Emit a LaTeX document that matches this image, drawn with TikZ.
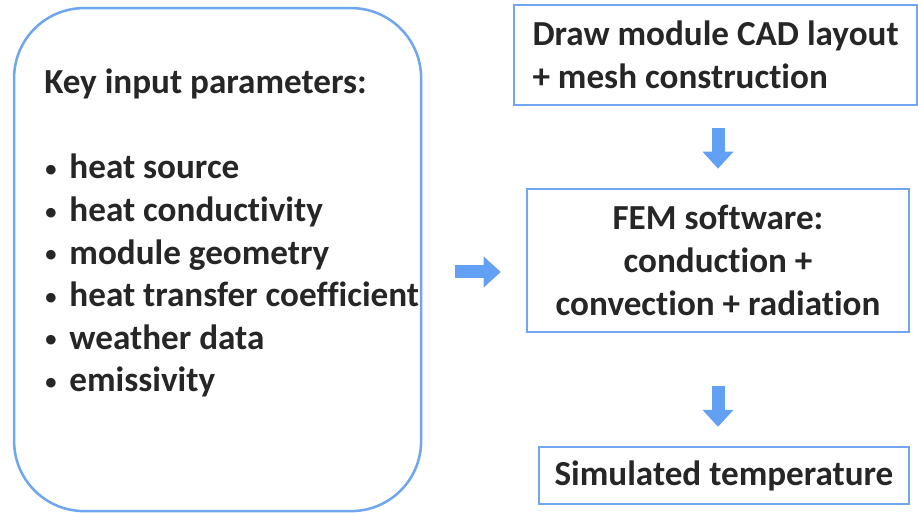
\documentclass[tikz,border=0pt]{standalone}
\usepackage{fontspec}
\setmainfont{Carlito}[Ligatures=NoCommon]
\usetikzlibrary{arrows.meta}
\definecolor{boxblue}{RGB}{112,166,240}
\definecolor{arrowblue}{RGB}{98,160,243}
\definecolor{textgray}{RGB}{38,38,38}
\tikzset{
  box/.style={draw=boxblue, line width=1.8pt, inner sep=0pt},
  label/.style={font=\fontsize{25}{30.3}\selectfont\bfseries, text=textgray},
  flow/.style={arrowblue, line width=0.325cm, -{Triangle[length=0.425cm,width=0.75cm]}}
}
\newcommand{\itm}{\makebox[0.63cm][l]{\hspace{0.03cm}\raisebox{0.06cm}{\fontsize{16}{16}\selectfont\textbullet}}}

\begin{document}
\begin{tikzpicture}
        \useasboundingbox (0,0) rectangle (22.95,-12.825);

        % left box
        \node[box, rounded corners=1.75cm, minimum width=10.175cm, minimum height=12.575cm] (inputs) at (5.44,-6.49) {};
        \node[label, align=left, anchor=north west, inner sep=0pt] (params) at (1.1,-1.72)
            {Key input parameters:\\ \\
             \itm heat source\\
             \itm heat conductivity\\
             \itm module geometry\\
             \itm heat transfer coefficient\\
             \itm weather data\\
             \itm emissivity};

        % right column
        \node[box, label, align=left, minimum width=10.075cm, minimum height=2.5cm] (cad) at (17.89,-1.375)
            {Draw module CAD layout\\+ mesh construction};
        \node[box, label, align=center, minimum width=9.55cm, minimum height=3.575cm] (fem) at (17.95,-6.51)
            {FEM software:\\conduction +\\convection + radiation};
        \node[box, label, minimum width=9.25cm, minimum height=1.425cm] (result) at (18.1,-11.89)
            {Simulated temperature};

        % arrows
        \draw[flow, shorten <=0.825cm, shorten >=0.625cm] ([yshift=-0.31cm]inputs.east) -- ([yshift=-0.31cm]inputs.east -| fem.west);
        \draw[flow, shorten <=0.55cm, shorten >=0.475cm] (cad.south -| fem.north) -- (fem.north);
        \draw[flow, shorten <=1.325cm, shorten >=0.475cm] (fem.south) -- (fem.south |- result.north);

    \end{tikzpicture}
\end{document}
